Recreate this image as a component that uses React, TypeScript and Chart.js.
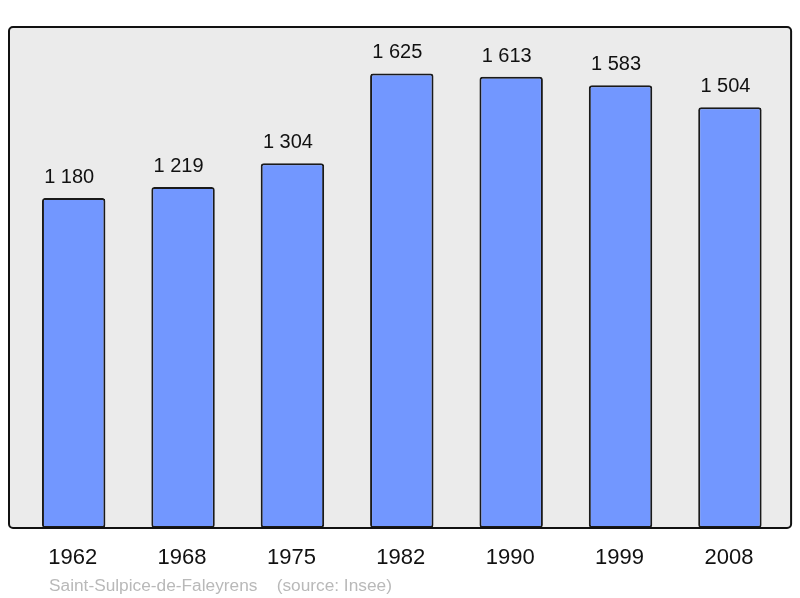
import React, { useEffect, useRef } from "react";
import { Chart, registerables } from "chart.js";

Chart.register(...registerables);

const years = ["1962", "1968", "1975", "1982", "1990", "1999", "2008"];
const population = [1180, 1219, 1304, 1625, 1613, 1583, 1504];
const valueLabels = ["1 180", "1 219", "1 304", "1 625", "1 613", "1 583", "1 504"];
const sourceText = "Saint-Sulpice-de-Faleyrens    (source: Insee)";

const FONT = "'Liberation Sans', Arial, sans-serif";

export default function App() {
  const ref = useRef<HTMLCanvasElement | null>(null);

  useEffect(() => {
    const canvas = ref.current;
    if (!canvas) return;

    const framePlugin = {
      id: "frame",
      beforeDraw(chart: any) {
        const { ctx, chartArea } = chart;
        const x0 = chartArea.left - 10;
        const x1 = chartArea.right + 6.5;
        const y0 = chartArea.top;
        const y1 = chartArea.bottom;
        ctx.save();
        ctx.beginPath();
        ctx.roundRect(x0, y0, x1 - x0, y1 - y0, 4);
        ctx.fillStyle = "#ebebeb";
        ctx.fill();
        ctx.restore();
      },
      afterDatasetsDraw(chart: any) {
        const { ctx, chartArea } = chart;
        const x0 = chartArea.left - 10;
        const x1 = chartArea.right + 6.5;
        const y0 = chartArea.top;
        const y1 = chartArea.bottom;
        ctx.save();
        ctx.beginPath();
        ctx.roundRect(x0, y0, x1 - x0, y1 - y0, 4);
        ctx.lineWidth = 2;
        ctx.strokeStyle = "#111111";
        ctx.stroke();
        ctx.restore();
      },
      afterDraw(chart: any) {
        const { ctx, chartArea } = chart;
        const xScale = chart.scales.x;
        const meta = chart.getDatasetMeta(0);
        ctx.save();
        ctx.textAlign = "center";
        ctx.textBaseline = "alphabetic";
        ctx.fillStyle = "#111111";
        ctx.font = `20px ${FONT}`;
        meta.data.forEach((bar: any, i: number) => {
          ctx.fillText(valueLabels[i], bar.x - 4.5, bar.y - 15);
        });
        ctx.font = `22px ${FONT}`;
        years.forEach((y, i) => {
          ctx.fillText(y, xScale.getPixelForValue(i) - 1, chartArea.bottom + 36);
        });
        ctx.textAlign = "left";
        ctx.fillStyle = "#b9b9b9";
        ctx.font = `17.3px ${FONT}`;
        ctx.fillText(sourceText, 49, chartArea.bottom + 62.5);
        ctx.restore();
      },
    };

    const chart = new Chart(canvas, {
      type: "bar",
      data: {
        labels: years,
        datasets: [
          {
            data: population,
            backgroundColor: "#7297ff",
            borderColor: "#1a1a1a",
            borderWidth: 2,
            borderRadius: 3,
            borderSkipped: false,
            barPercentage: 0.58,
            categoryPercentage: 1,
          },
        ],
      },
      options: {
        responsive: false,
        animation: false,
        layout: { padding: { left: 19, right: 15.4, top: 27, bottom: 70 } },
        plugins: {
          legend: { display: false },
          tooltip: { enabled: false },
        },
        scales: {
          x: { display: false, grid: { display: false } },
          y: { display: false, min: 0, max: 1791, grid: { display: false } },
        },
      },
      plugins: [framePlugin],
    });

    return () => chart.destroy();
  }, []);

  return (
    <div style={{ position: "absolute", left: 0, top: 0, width: 800, height: 598, background: "#ffffff" }}>
      <canvas ref={ref} width={800} height={598} style={{ display: "block" }} />
    </div>
  );
}
